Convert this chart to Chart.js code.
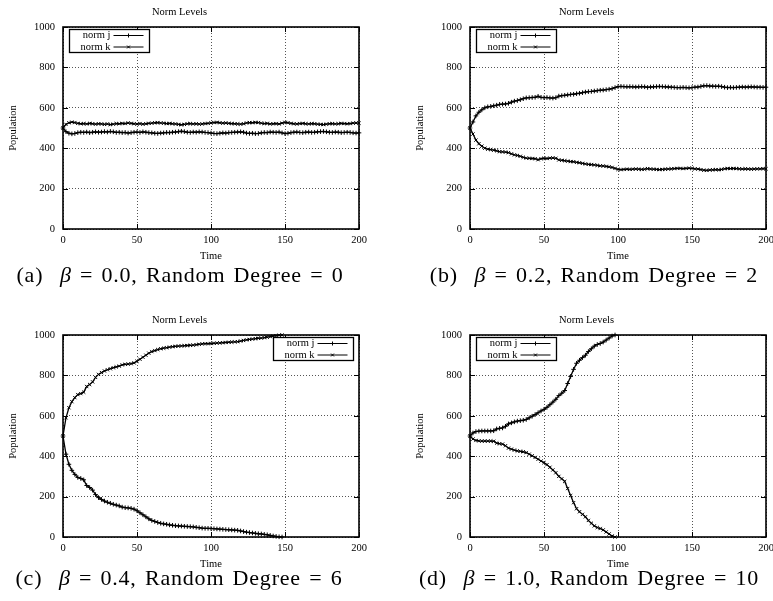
<!DOCTYPE html>
<html>
<head>
<meta charset="utf-8">
<script src="https://cdn.jsdelivr.net/npm/chart.js@4/dist/chart.umd.min.js"></script>
<style>
  html, body { margin: 0; padding: 0; background: #fff; }
  body { width: 773px; height: 601px; overflow: hidden; position: relative; }
  canvas { position: absolute; }
  .cap { position: absolute; width: 380px; text-align: center; font-family: "Liberation Serif", serif;
         font-size: 22px; line-height: 22px; color: #000; white-space: nowrap;
         word-spacing: 2px; letter-spacing: 0.8px; }
</style>
</head>
<body>
<canvas id="chartA" width="383" height="264" style="left:0;top:0"></canvas>
<canvas id="chartB" width="383" height="264" style="left:407px;top:0"></canvas>
<canvas id="chartC" width="383" height="264" style="left:0;top:308px"></canvas>
<canvas id="chartD" width="383" height="264" style="left:407px;top:308px"></canvas>
<div class="cap" style="left:-10px;top:264px">(a)&nbsp; <i>β</i> = 0.0, Random Degree = 0</div>
<div class="cap" style="left:404px;top:264px">(b)&nbsp; <i>β</i> = 0.2, Random Degree = 2</div>
<div class="cap" style="left:-11px;top:567px">(c)&nbsp; <i>β</i> = 0.4, Random Degree = 6</div>
<div class="cap" style="left:399px;top:567px">(d)&nbsp; <i>β</i> = 1.0, Random Degree = 10</div>
<script>
// time steps (every 2 units)
const time = [
  0, 2, 4, 6, 8, 10, 12, 14, 16, 18,
  20, 22, 24, 26, 28, 30, 32, 34, 36, 38,
  40, 42, 44, 46, 48, 50, 52, 54, 56, 58,
  60, 62, 64, 66, 68, 70, 72, 74, 76, 78,
  80, 82, 84, 86, 88, 90, 92, 94, 96, 98,
  100, 102, 104, 106, 108, 110, 112, 114, 116, 118,
  120, 122, 124, 126, 128, 130, 132, 134, 136, 138,
  140, 142, 144, 146, 148, 150, 152, 154, 156, 158,
  160, 162, 164, 166, 168, 170, 172, 174, 176, 178,
  180, 182, 184, 186, 188, 190, 192, 194, 196, 198,
  200
];

// (a) beta = 0.0
const jA = [
  500, 482, 474, 471, 473, 477, 479, 478, 480, 477,
  479, 481, 479, 480, 482, 480, 483, 481, 478, 479,
  477, 478, 475, 477, 479, 480, 478, 481, 479, 477,
  476, 474, 473, 475, 476, 478, 477, 479, 480, 482,
  484, 482, 479, 478, 480, 479, 481, 480, 478, 477,
  475, 473, 472, 474, 476, 475, 477, 478, 479, 480,
  481, 479, 475, 473, 474, 472, 473, 476, 478, 477,
  480, 479, 478, 480, 476, 472, 474, 477, 479, 480,
  478, 477, 479, 480, 478, 479, 481, 482, 483, 481,
  479, 478, 480, 479, 477, 478, 479, 478, 476, 475,
  476
];
const kA = [
  500, 518, 526, 529, 527, 523, 521, 522, 520, 523,
  521, 519, 521, 520, 518, 520, 517, 519, 522, 521,
  523, 522, 525, 523, 521, 520, 522, 519, 521, 523,
  524, 526, 527, 525, 524, 522, 523, 521, 520, 518,
  516, 518, 521, 522, 520, 521, 519, 520, 522, 523,
  525, 527, 528, 526, 524, 525, 523, 522, 521, 520,
  519, 521, 525, 527, 526, 528, 527, 524, 522, 523,
  520, 521, 522, 520, 524, 528, 526, 523, 521, 520,
  522, 523, 521, 520, 522, 521, 519, 518, 517, 519,
  521, 522, 520, 521, 523, 522, 521, 522, 524, 525,
  524
];

// (b) beta = 0.2
const jB = [
  500, 530, 560, 578, 590, 600, 605, 607, 610, 613,
  617, 618, 619, 622, 628, 633, 636, 640, 645, 649,
  650, 651, 652, 657, 652, 650, 651, 649, 648, 650,
  658, 660, 662, 664, 666, 667, 670, 672, 675, 678,
  680, 681, 683, 685, 687, 688, 690, 692, 695, 700,
  705, 706, 705, 704, 705, 704, 703, 704, 705, 704,
  701, 703, 704, 705, 706, 705, 704, 703, 702, 701,
  700, 700, 701, 700, 699, 700, 702, 703, 706, 709,
  710, 708, 707, 706, 707, 705, 702, 700, 701, 700,
  701, 702, 703, 702, 703, 704, 703, 702, 702, 701,
  702
];
const kB = [
  500, 470, 440, 422, 410, 400, 395, 393, 390, 387,
  383, 382, 381, 378, 372, 367, 364, 360, 355, 351,
  350, 349, 348, 343, 348, 350, 349, 351, 352, 350,
  342, 340, 338, 336, 334, 333, 330, 328, 325, 322,
  320, 319, 317, 315, 313, 312, 310, 308, 305, 300,
  295, 294, 295, 296, 295, 296, 297, 296, 295, 296,
  299, 297, 296, 295, 294, 295, 296, 297, 298, 299,
  300, 300, 299, 300, 301, 300, 298, 297, 294, 291,
  290, 292, 293, 294, 293, 295, 298, 300, 299, 300,
  299, 298, 297, 298, 297, 296, 297, 298, 298, 299,
  298
];

// (c) beta = 0.4 (runs to t = 148)
const jC = [
  500, 410, 360, 330, 310, 295, 290, 283, 255, 245,
  232, 210, 195, 186, 178, 172, 167, 162, 158, 154,
  148, 145, 144, 142, 138, 130, 120, 110, 100, 90,
  82, 77, 72, 68, 65, 63, 60, 58, 56, 55,
  54, 53, 52, 51, 50, 48, 46, 44, 43, 43,
  42, 41, 40, 39, 38, 37, 36, 35, 34, 33,
  30, 27, 24, 22, 20, 18, 16, 15, 13, 11,
  8, 5, 3, 1, 0
];
const kC = [
  500, 590, 640, 670, 690, 705, 710, 717, 745, 755,
  768, 790, 805, 814, 822, 828, 833, 838, 842, 846,
  852, 855, 856, 858, 862, 870, 880, 890, 900, 910,
  918, 923, 928, 932, 935, 937, 940, 942, 944, 945,
  946, 947, 948, 949, 950, 952, 954, 956, 957, 957,
  958, 959, 960, 961, 962, 963, 964, 965, 966, 967,
  970, 973, 976, 978, 980, 982, 984, 985, 987, 989,
  992, 995, 997, 999, 1000
];

// (d) beta = 1.0 (runs to t = 98)
const jD = [
  500, 515, 522, 524, 525, 525, 525, 525, 526, 535,
  538, 540, 548, 560, 565, 570, 574, 576, 578, 582,
  590, 598, 606, 615, 624, 632, 642, 655, 668, 682,
  700, 712, 725, 760, 795, 830, 860, 875, 888, 900,
  918, 932, 945, 953, 958, 965, 975, 985, 995, 1000
];
const kD = [
  500, 485, 478, 476, 475, 475, 475, 475, 474, 465,
  462, 460, 452, 440, 435, 430, 426, 424, 422, 418,
  410, 402, 394, 385, 376, 368, 358, 345, 332, 318,
  300, 288, 275, 240, 205, 170, 140, 125, 112, 100,
  82, 68, 55, 47, 42, 35, 25, 15, 5, 0
];

const xTicks = [0, 50, 100, 150, 200];
const yTicks = [0, 200, 400, 600, 800, 1000];

Chart.defaults.font.family = '"Liberation Serif", "Times New Roman", serif';
Chart.defaults.font.size = 10.5;
Chart.defaults.color = '#000';

// gnuplot-ish frame, inward ticks and key box
const gnuFrame = {
  id: 'gnuFrame',
  afterDraw(chart, args, opts) {
    const { ctx, chartArea: a, scales } = chart;
    ctx.save();
    ctx.strokeStyle = '#000';
    ctx.lineWidth = 1;
    ctx.beginPath();
    xTicks.forEach(v => {
      const px = Math.round(scales.x.getPixelForValue(v)) + 0.5;
      ctx.moveTo(px, a.bottom); ctx.lineTo(px, a.bottom - 5);
      ctx.moveTo(px, a.top); ctx.lineTo(px, a.top + 5);
    });
    yTicks.forEach(v => {
      const py = Math.round(scales.y.getPixelForValue(v)) + 0.5;
      ctx.moveTo(a.left, py); ctx.lineTo(a.left + 5, py);
      ctx.moveTo(a.right, py); ctx.lineTo(a.right - 5, py);
    });
    ctx.stroke();
    ctx.lineWidth = 1.6;
    ctx.strokeRect(a.left, a.top, a.width, a.height);

    const w = 80, h = 23;
    const bx = Math.round(opts.side === 'right' ? a.right - 6 - w : a.left + 6) + 0.5;
    const by = Math.round(a.top + 2) + 0.5;
    ctx.fillStyle = '#fff';
    ctx.fillRect(bx, by, w, h);
    ctx.lineWidth = 1.3;
    ctx.strokeRect(bx, by, w, h);
    ctx.font = '10.5px "Liberation Serif"';
    ctx.textAlign = 'right';
    ctx.textBaseline = 'middle';
    ctx.fillStyle = '#000';
    chart.data.datasets.forEach((ds, i) => {
      const y = by + 6 + i * 11.5;
      ctx.fillText(ds.label, bx + 41, y);
      ctx.lineWidth = 1;
      ctx.beginPath();
      ctx.moveTo(bx + 44, y); ctx.lineTo(bx + 74, y);
      ctx.stroke();
      Chart.helpers.drawPoint(ctx, { pointStyle: ds.pointStyle, radius: 2, borderWidth: 1, rotation: 0 }, bx + 59, y);
    });
    ctx.restore();
  }
};

function series(label, values, style) {
  return {
    label: label,
    data: values.map((v, i) => ({ x: time[i], y: v })),
    borderColor: '#000',
    borderWidth: 1.3,
    pointStyle: style,
    pointRadius: 2.3,
    pointBorderWidth: 1,
    pointBorderColor: '#000',
    pointBackgroundColor: '#000',
    tension: 0,
    clip: false
  };
}

function makeChart(id, j, k, side) {
  new Chart(document.getElementById(id), {
    type: 'line',
    data: { datasets: [series('norm j', j, 'cross'), series('norm k', k, 'crossRot')] },
    options: {
      responsive: false,
      animation: false,
      events: [],
      layout: { padding: { left: 0, right: 24, top: 0, bottom: 1 } },
      plugins: {
        legend: { display: false },
        tooltip: { enabled: false },
        title: {
          display: true, text: 'Norm Levels',
          font: { size: 10.5, weight: 'normal' },
          padding: { top: 6, bottom: 8.4 }
        },
        gnuFrame: { side: side }
      },
      scales: {
        x: {
          type: 'linear', min: 0, max: 200,
          ticks: { stepSize: 50, padding: 5, maxRotation: 0, callback: v => String(v) },
          grid: { color: '#555', drawTicks: false },
          border: { display: false, dash: [1, 2] },
          title: { display: true, text: 'Time', padding: { top: 0, bottom: 0 } },
          afterFit: s => { s.height = 34; }
        },
        y: {
          min: 0, max: 1000,
          ticks: { stepSize: 200, padding: 8, callback: v => String(v) },
          grid: { color: '#555', drawTicks: false },
          border: { display: false, dash: [1, 2] },
          title: { display: true, text: 'Population', padding: { top: 7, bottom: 0 } },
          afterFit: s => { s.width = 63; }
        }
      }
    },
    plugins: [gnuFrame]
  });
}

makeChart('chartA', jA, kA, 'left');
makeChart('chartB', jB, kB, 'left');
makeChart('chartC', jC, kC, 'right');
makeChart('chartD', jD, kD, 'left');
</script>
</body>
</html>
